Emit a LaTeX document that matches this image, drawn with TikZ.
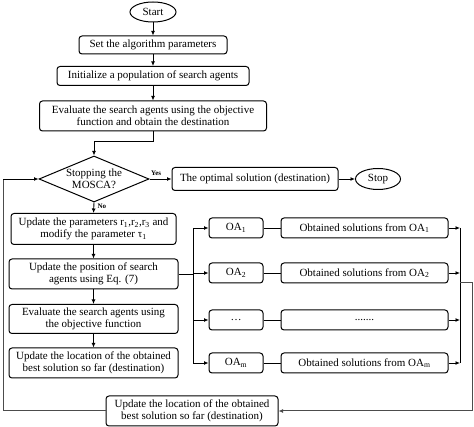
\documentclass[tikz,border=0pt]{standalone}
\usepackage{fontspec}
\setmainfont{Liberation Serif}
\usetikzlibrary{shapes.geometric,arrows.meta}
\tikzset{
  box/.style={draw,rounded corners=3pt,line width=1pt,align=center,inner sep=1pt},
  term/.style={draw,ellipse,line width=1pt,inner sep=0pt},
  flow/.style={line width=0.9pt,-{Latex[length=4.5pt,width=4pt]}},
  loop/.style={line width=1pt,draw=black!70},
}
\begin{document}
\begin{tikzpicture}[x=1pt,y=-1pt,font=\fontsize{11}{12}\selectfont]
            \useasboundingbox (0,0) rectangle (474,427);
            % Place the main column
            \node[term,minimum width=46pt,minimum height=20pt] (start) at (153,12) {Start};
            \node[box,minimum width=148pt,minimum height=18pt] (set) at (153,45) {Set the algorithm parameters};
            \node[box,minimum width=192pt,minimum height=19pt] (init) at (153,76) {Initialize a population of search agents};
            \node[box,minimum width=227pt,minimum height=30pt] (eval) at (153,116) {Evaluate the search agents using the objective\\function and obtain the destination};
            \node[draw,diamond,aspect=2.4,inner sep=0pt,line width=1pt,align=center,
                  minimum width=110pt,minimum height=46pt] (check) at (94,179) {Stopping the\\MOSCA?};
            \node[box,minimum width=166pt,minimum height=23pt] (opt) at (255,179) {The optimal solution (destination)};
            \node[term,minimum width=45pt,minimum height=21pt] (stop) at (378,179) {Stop};

            % Place the loop body
            \node[box,minimum width=165pt,minimum height=31pt] (upar) at (93.5,229) {Update the parameters r\textsubscript{1},r\textsubscript{2},r\textsubscript{3} and\\modify the parameter τ\textsubscript{1}};
            \node[box,minimum width=169pt,minimum height=30pt] (upos) at (93.5,274) {Update the position of search\\agents using Eq. (7)};
            \node[box,minimum width=169pt,minimum height=29pt] (ev2) at (93.5,319) {Evaluate the search agents using\\the objective function};
            \node[box,minimum width=169pt,minimum height=30pt] (uloc) at (93.5,363) {Update the location of the obtained\\best solution so far (destination)};
            \node[box,minimum width=172pt,minimum height=30pt] (best) at (192,411) {Update the location of the obtained\\best solution so far (destination)};

            % Place the other nodes
            \node[box,minimum width=54pt,minimum height=20pt] (oa1) at (236,228) {OA\textsubscript{1}};
            \node[box,minimum width=54pt,minimum height=20pt] (oa2) at (236,273) {OA\textsubscript{2}};
            \node[box,minimum width=54pt,minimum height=20pt] (oa3) at (236,320) {\ldots};
            \node[box,minimum width=54pt,minimum height=20pt] (oam) at (236,363) {OA\textsubscript{m}};
            \node[box,minimum width=167pt,minimum height=20pt] (ob1) at (364.5,228) {Obtained solutions from OA\textsubscript{1}};
            \node[box,minimum width=167pt,minimum height=20pt] (ob2) at (364.5,273) {Obtained solutions from OA\textsubscript{2}};
            \node[box,minimum width=167pt,minimum height=20pt] (ob3) at (364.5,320) {.......};
            \node[box,minimum width=167pt,minimum height=20pt] (obm) at (364.5,363) {Obtained solutions from OA\textsubscript{m}};

            \coordinate (split) at (193,274);
            \coordinate (jtop) at (460,228);
            \coordinate (jbot) at (460,363);
            \coordinate (jout) at (460,283);
            \coordinate (rc) at (472,411);
            \coordinate (lc) at (3,179);

            % The lines!
            \draw[flow] (start) -- (set);
            \draw[flow] (set) -- (init);
            \draw[flow] (init) -- (eval);
            \draw[flow] (eval.south) -- ++(0,10) -| (check.north);
            \draw[flow] (check.east) -- (opt.west) node[pos=0.3,above,font=\fontsize{7}{8}\selectfont\bfseries] (yes) {Yes};
            \draw[flow] (opt) -- (stop);
            \draw[flow] (check.south) -- (upar.north) node[pos=0.35,right,font=\fontsize{7}{8}\selectfont\bfseries] (no) {No};
            \draw[flow] (upar) -- (upos);
            \draw[flow] (upos) -- (ev2);
            \draw[flow] (ev2) -- (uloc);
            \draw[line width=0.9pt] (upos.east) -- (split);
            \draw[line width=0.9pt] (split |- oa1) -- (split |- oam);
            \foreach \i in {1,2,3,m} {
              \draw[flow] (split |- oa\i) -- (oa\i.west);
              \draw[line width=0.9pt] (oa\i) -- (ob\i);
              \draw[flow] (ob\i.east) -- (jtop |- ob\i);
            }
            \draw[line width=0.9pt] (jtop) -- (jbot);
            \draw[loop,-{Latex[length=4.5pt,width=4pt]}] (jout) -| (rc) -- (best.east);
            \draw[loop] (best.west) -| (lc);
            \draw[flow] (lc) -- (check.west);
        \end{tikzpicture}
\end{document}
